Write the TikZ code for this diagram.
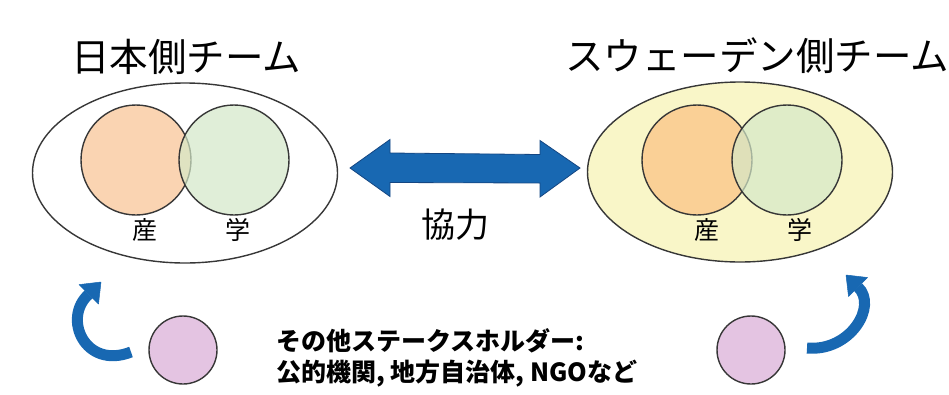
\documentclass[tikz,border=0pt]{standalone}
\usepackage{fontspec}
\newfontfamily\jp{Noto Sans CJK JP}
\usetikzlibrary{arrows.meta,shapes.geometric}
\definecolor{edgegray}{RGB}{55,55,55}
\definecolor{sanfill}{RGB}{250,212,178}
\definecolor{sanfillR}{RGB}{250,208,150}
\definecolor{gakufill}{RGB}{212,232,200}
\definecolor{swefill}{RGB}{249,246,200}
\definecolor{arrowblue}{RGB}{24,104,178}
\definecolor{arrowedge}{RGB}{20,70,130}
\definecolor{stakefill}{RGB}{228,196,226}
\tikzset{
  team/.style={ellipse, draw=edgegray, line width=1.4pt, minimum width=305pt, minimum height=180pt, inner sep=0pt},
  venn/.style={circle, draw=edgegray, line width=1.4pt, minimum size=110pt, inner sep=0pt},
  title/.style={font=\jp\fontsize{38.5}{40}\selectfont, inner sep=0pt},
  vlabel/.style={font=\jp\fontsize{25}{27}\selectfont, inner sep=0pt},
  holder/.style={circle, draw=edgegray, line width=1.4pt, fill=stakefill, minimum size=68pt, inner sep=0pt},
  curvebody/.style={draw=arrowblue, line width=11pt},
  curvehead/.style={fill=arrowblue, draw=arrowblue, line width=0.5pt, line join=round},
}
\begin{document}
\begin{tikzpicture}[x=1pt,y=-1pt]
\useasboundingbox (0,0) rectangle (949,394);
% titles
\node[title] (tJ) at (186,57) {日本側チーム};
\node[title] (tS) at (757,56) {スウェーデン側チーム};
% team ellipses
\node[team, fill=white] (eJ) at (185,173) {};
\node[team, fill=swefill] (eS) at (740,172) {};
% venn circles left
\node[venn, fill=sanfill] (sJ) at (136,160) {};
\node[venn, fill=gakufill, fill opacity=0.7] (gJ) at (234,160) {};
\node[vlabel] (lsJ) at (145,230) {産};
\node[vlabel] (lgJ) at (238,230) {学};
% venn circles right
\node[venn, fill=sanfillR] (sS) at (697,160) {};
\node[venn, fill=gakufill, fill opacity=0.7] (gS) at (787,160) {};
\node[vlabel] (lsS) at (707,230) {産};
\node[vlabel] (lgS) at (800,230) {学};
% double arrow
\coordinate (aL) at (350,168);
\coordinate (aR) at (580,168);
\fill[arrowblue, draw=arrowedge, line width=0.8pt]
  (aL) -- ++(40,-28.5) -- ++(0,13.5) -- (540,154.5) -- ++(0,-14) -- (aR)
  -- (540,197) -- ++(0,-14) -- (390,182.5) -- ++(0,14) -- cycle;
\node[font=\jp\fontsize{34}{36}\selectfont, inner sep=0pt] (coop) at (455,225) {協力};
% stakeholders
\node[holder] (hJ) at (183,350) {};
\node[holder] (hS) at (751,350) {};
\node[font=\jp\bfseries\fontsize{25}{31}\selectfont, align=left, anchor=west, inner sep=0pt] (stk) at (276,358)
  {その他ステークスホルダー:\\公的機関, 地方自治体, NGOなど};
% curved arrow left
\coordinate (cJ1) at (131,352);
\coordinate (cJb) at (88.7,294.3);
\coordinate (cJt) at (101,282);
\coordinate (cJw1) at (98.5,304);
\coordinate (cJw2) at (79,284.6);
\draw[curvebody] (cJ1) .. controls (85,370) and (62,318) .. (cJb);
\filldraw[curvehead] (cJt) -- (cJw1) -- (cJw2) -- cycle;
% curved arrow right
\coordinate (cS1) at (807,348);
\coordinate (cSb) at (858,287);
\coordinate (cSt) at (846,275);
\coordinate (cSw1) at (867.5,277.5);
\coordinate (cSw2) at (848.5,296.5);
\draw[curvebody] (cS1) .. controls (850,352) and (878,306) .. (cSb);
\filldraw[curvehead] (cSt) -- (cSw1) -- (cSw2) -- cycle;
\end{tikzpicture}
\end{document}
